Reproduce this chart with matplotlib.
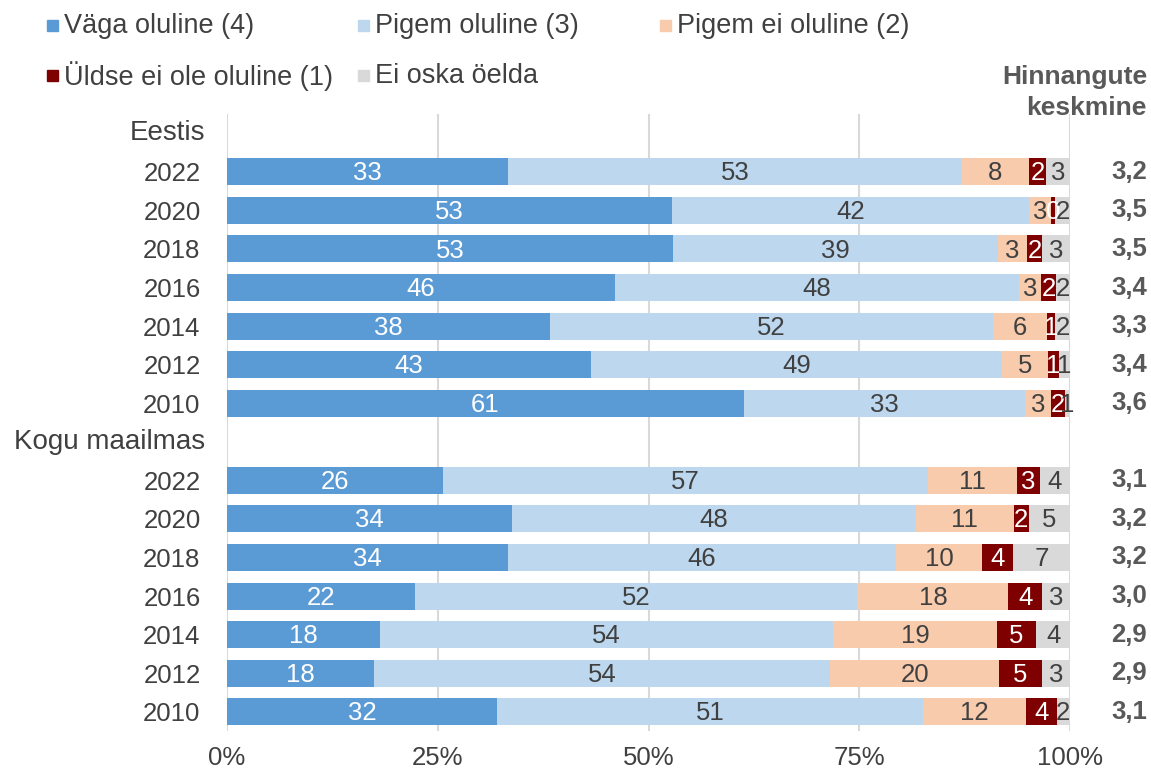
import numpy as np
import matplotlib.pyplot as plt
from matplotlib.patches import Rectangle
from matplotlib.transforms import blended_transform_factory

plt.rcParams['font.family'] = ['Liberation Sans', 'DejaVu Sans']

# data (percent, widths; labels as printed)
years = ['2022', '2020', '2018', '2016', '2014', '2012', '2010']
groups = ['Eestis', 'Kogu maailmas']
series = ['Väga oluline (4)', 'Pigem oluline (3)', 'Pigem ei oluline (2)',
          'Üldse ei ole oluline (1)', 'Ei oska öelda']

eesti_vaga = [33.3, 52.9, 52.9, 46.1, 38.3, 43.1, 61.4]
eesti_pigem = [53.9, 42.4, 38.6, 48.0, 52.6, 48.8, 33.4]
eesti_pigem_ei = [7.9, 2.7, 3.4, 2.7, 6.5, 5.4, 3.2]
eesti_yldse = [2.1, 0.4, 1.85, 1.7, 0.9, 1.3, 1.6]
eesti_eos = [2.8, 1.8, 3.3, 1.7, 1.8, 1.3, 0.6]
eesti_labels = [[33, 53, 8, 2, 3], [53, 42, 3, 0, 2], [53, 39, 3, 2, 3], [46, 48, 3, 2, 2],
                [38, 52, 6, 1, 2], [43, 49, 5, 1, 1], [61, 33, 3, 2, 1]]
eesti_keskmine = ['3,2', '3,5', '3,5', '3,4', '3,3', '3,4', '3,6']

maailm_vaga = [25.6, 33.8, 33.3, 22.3, 18.1, 17.4, 32.0]
maailm_pigem = [57.6, 47.9, 46.1, 52.4, 53.8, 53.9, 50.6]
maailm_pigem_ei = [10.6, 11.6, 10.2, 17.9, 19.4, 19.9, 12.2]
maailm_yldse = [2.7, 1.8, 3.6, 4.0, 4.7, 5.1, 3.6]
maailm_eos = [3.6, 4.9, 6.8, 3.3, 4.0, 3.3, 1.6]
maailm_labels = [[26, 57, 11, 3, 4], [34, 48, 11, 2, 5], [34, 46, 10, 4, 7], [22, 52, 18, 4, 3],
                 [18, 54, 19, 5, 4], [18, 54, 20, 5, 3], [32, 51, 12, 4, 2]]
maailm_keskmine = ['3,1', '3,2', '3,2', '3,0', '2,9', '2,9', '3,1']

colors = ['#5B9BD5', '#BDD7EE', '#F8CBAD', '#7F0000', '#D9D9D9']
text_colors = ['white', '#404040', '#404040', 'white', '#404040']
grey = '#404040'

fig = plt.figure(figsize=(11.51, 7.75), dpi=100)
ax = fig.add_axes([227 / 1151, 1 - 731 / 775, 843 / 1151, 617 / 775])

blocks = [
    (groups[0], [eesti_vaga, eesti_pigem, eesti_pigem_ei, eesti_yldse, eesti_eos], eesti_labels, eesti_keskmine),
    (groups[1], [maailm_vaga, maailm_pigem, maailm_pigem_ei, maailm_yldse, maailm_eos], maailm_labels, maailm_keskmine),
]

ytick_pos = []
ytick_lab = []
right_tr = blended_transform_factory(fig.transFigure, ax.transData)
row = 0
for name, vals, labs, means in blocks:
    ax.text(-22 / 843, row, name, transform=blended_transform_factory(ax.transAxes, ax.transData),
            ha='right', va='center', fontsize=20, color=grey)
    row += 1
    arr = np.array(vals)
    for i, yr in enumerate(years):
        tot = arr[:, i].sum()
        left = 0.0
        for k in range(len(series)):
            w = arr[k, i] / tot * 100
            ax.barh(row, w, left=left, height=0.7, color=colors[k], zorder=2)
            ax.text(left + w / 2, row + 0.04, str(labs[i][k]), ha='center', va='center',
                    fontsize=18.5, color=text_colors[k], zorder=3)
            left += w
        ax.text(1147 / 1151, row, means[i], transform=right_tr, ha='right', va='center',
                fontsize=18.5, fontweight='bold', color='#595959')
        ytick_pos.append(row)
        ytick_lab.append(yr)
        row += 1

ax.set_ylim(row - 0.5, -0.5)
ax.set_xlim(0, 100)
ax.set_yticks(ytick_pos)
ax.set_yticklabels(ytick_lab, fontsize=18.5, color=grey)
ax.set_xticks([0, 25, 50, 75, 100])
ax.set_xticklabels(['0%', '25%', '50%', '75%', '100%'], fontsize=18.5, color=grey)
ax.tick_params(axis='y', length=0, pad=19)
ax.tick_params(axis='x', length=0, pad=11)
ax.grid(axis='x', color='#D9D9D9', linewidth=1.5, zorder=0)
for s in ax.spines.values():
    s.set_visible(False)

# legend placed by hand like the original
leg_pos = [(47, 25), (358, 25), (660, 25), (47, 75), (358, 75)]
for k, (px, py) in enumerate(leg_pos):
    fig.patches.append(Rectangle((px / 1151, 1 - (py + 6) / 775), 11 / 1151, 11 / 775,
                                 transform=fig.transFigure, color=colors[k]))
    fig.text((px + 17) / 1151, 1 - (py + 1) / 775, series[k], ha='left', va='center',
             fontsize=19.5, color=grey)

fig.text(1147 / 1151, 1 - 77 / 775, 'Hinnangute', ha='right', va='center',
         fontsize=19, fontweight='bold', color='#595959')
fig.text(1147 / 1151, 1 - 108 / 775, 'keskmine', ha='right', va='center',
         fontsize=19, fontweight='bold', color='#595959')

fig.savefig('out.png', dpi=100)
